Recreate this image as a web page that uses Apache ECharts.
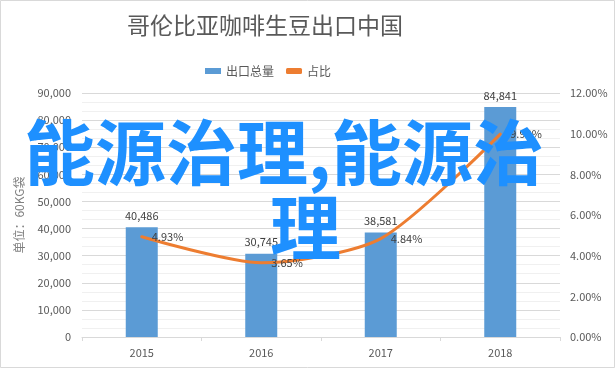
<!DOCTYPE html>
<html>
<head>
<meta charset="utf-8">
<script src="https://cdn.jsdelivr.net/npm/echarts@6/dist/echarts.min.js"></script>
<style>
html,body{margin:0;padding:0;background:#fff;}
#c{width:616px;height:369px;}
</style>
</head>
<body>
<div id="c"></div>
<script>
const categories = ['2015', '2016', '2017', '2018'];
const exportVolume = [40486, 30745, 38581, 84841];
const sharePct = [4.93, 3.65, 4.84, 9.98];
const titleText = '哥伦比亚咖啡生豆出口中国';
const seriesNames = ['出口总量', '占比'];
const leftAxisName = '单位：60KG袋';
const overlayLine1 = '能源治理,能源治';
const overlayLine2 = '理';

const FONT = '"Noto Sans CJK SC", "Noto Sans", sans-serif';
const chart = echarts.init(document.getElementById('c'), null, {renderer: 'canvas'});
chart.setOption({
  backgroundColor: '#fff',
  animation: false,
  textStyle: {fontFamily: FONT},
  title: {
    text: titleText,
    left: 122, top: 9,
    textStyle: {fontSize: 23, fontWeight: 'normal', color: '#595959', fontFamily: FONT}
  },
  legend: {
    left: 200, top: 60,
    itemWidth: 16, itemHeight: 6, itemGap: 12,
    textStyle: {fontSize: 12, color: '#595959', fontFamily: FONT},
    data: [
      {name: seriesNames[0], icon: 'rect'},
      {name: seriesNames[1], icon: 'roundRect', itemStyle: {color: '#ED7D31', opacity: 1}}
    ]
  },
  grid: {left: 82, right: 56, top: 93, bottom: 32, containLabel: false},
  xAxis: {
    type: 'category',
    data: categories,
    axisLine: {lineStyle: {color: '#d9d9d9'}},
    axisTick: {show: true, length: 4, lineStyle: {color: '#d9d9d9'}},
    axisLabel: {color: '#595959', fontSize: 11, margin: 10, fontFamily: FONT}
  },
  yAxis: [
    {
      type: 'value', min: 0, max: 90000, interval: 10000,
      name: leftAxisName, nameLocation: 'middle', nameRotate: 90, nameGap: 57,
      nameTextStyle: {color: '#808080', fontSize: 12, fontFamily: FONT},
      axisLine: {show: false}, axisTick: {show: false},
      axisLabel: {color: '#595959', fontSize: 11, margin: 11, fontFamily: FONT,
        formatter: v => v.toLocaleString('en-US')},
      splitLine: {lineStyle: {color: '#d9d9d9'}},
      minorTick: {show: false, splitNumber: 3},
      minorSplitLine: {show: true, lineStyle: {color: '#f0f0f0'}}
    },
    {
      type: 'value', min: 0, max: 12, interval: 2,
      axisLine: {show: false}, axisTick: {show: false},
      axisLabel: {color: '#595959', fontSize: 11, margin: 10, fontFamily: FONT,
        formatter: v => v.toFixed(2) + '%'},
      splitLine: {show: false}
    }
  ],
  series: [
    {
      name: seriesNames[0], type: 'bar', data: exportVolume, barWidth: 32,
      itemStyle: {color: '#5B9BD5'},
      label: {show: true, position: 'top', distance: 6, color: '#404040', fontSize: 11,
        fontFamily: FONT, formatter: p => p.value.toLocaleString('en-US')}
    },
    {
      name: seriesNames[1], type: 'line', yAxisIndex: 1, data: sharePct,
      smooth: 0.25, showSymbol: true, symbol: 'circle', symbolSize: 0.01,
      lineStyle: {color: '#ED7D31', width: 3, cap: 'round'},
      itemStyle: {color: '#ED7D31'},
      label: {show: true, position: 'right', distance: 10, color: '#404040', fontSize: 11,
        fontFamily: FONT, formatter: p => p.value.toFixed(2) + '%'}
    }
  ],
  graphic: [
    {type: 'rect', silent: true, z: 0, shape: {x: 0.5, y: 0.5, width: 614, height: 367},
      style: {fill: 'none', stroke: '#d9d9d9', lineWidth: 1}},
    {type: 'text', z: 100, left: 24, top: 117,
      style: {text: overlayLine1, fontSize: 71, fontWeight: 'bold', fill: '#1E90FF', fontFamily: FONT}},
    {type: 'text', z: 100, left: 270, top: 192,
      style: {text: overlayLine2, fontSize: 71, fontWeight: 'bold', fill: '#1E90FF', fontFamily: FONT}}
  ]
});
</script>
</body>
</html>
